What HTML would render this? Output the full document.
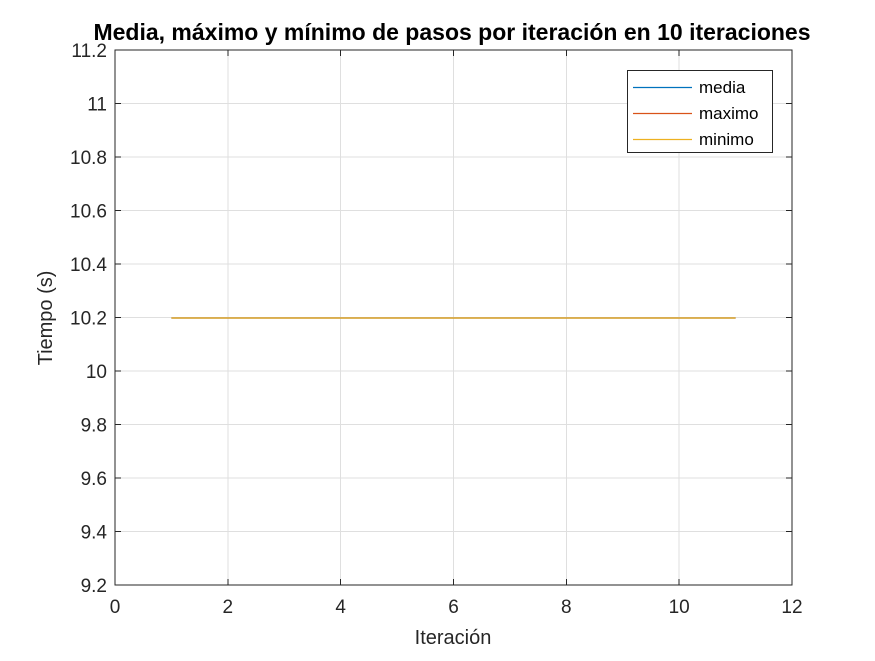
<!DOCTYPE html>
<html><head><meta charset="utf-8"><style>
html,body{margin:0;padding:0;background:#fff;}
svg text{font-family:"Liberation Sans",Arial,sans-serif;}
</style></head><body>
<svg id="chart" width="875" height="656" xmlns="http://www.w3.org/2000/svg">
<rect width="875" height="656" fill="#fff"/>
<g id="grid"></g><g id="series"></g><g id="axes"></g>
<text x="452" y="40" text-anchor="middle" font-size="23" font-weight="bold" fill="#000">Media, máximo y mínimo de pasos por iteración en 10 iteraciones</text>
<text x="453" y="644" text-anchor="middle" font-size="20" fill="#262626">Iteración</text>
<text transform="translate(52,318) rotate(-90)" text-anchor="middle" font-size="20" fill="#262626">Tiempo (s)</text>
<g>
<rect x="627.5" y="70.5" width="145" height="82" fill="#fff" stroke="#262626" stroke-width="1" shape-rendering="crispEdges"/>
<line x1="633" y1="87.5" x2="692" y2="87.5" stroke="#0072BD" stroke-width="1.2"/>
<line x1="633" y1="113.5" x2="692" y2="113.5" stroke="#D95319" stroke-width="1.2"/>
<line x1="633" y1="139.5" x2="692" y2="139.5" stroke="#EDB120" stroke-width="1.2"/>
</g>
<text x="699" y="93" font-size="17" fill="#000">media</text>
<text x="699" y="119" font-size="17" fill="#000">maximo</text>
<text x="699" y="145" font-size="17" fill="#000">minimo</text>
</svg>
<script>
const iterations=[1,2,3,4,5,6,7,8,9,10,11];
const media=[10.2,10.2,10.2,10.2,10.2,10.2,10.2,10.2,10.2,10.2,10.2];
const maximo=[10.2,10.2,10.2,10.2,10.2,10.2,10.2,10.2,10.2,10.2,10.2];
const minimo=[10.2,10.2,10.2,10.2,10.2,10.2,10.2,10.2,10.2,10.2,10.2];
const xTicks=[0,2,4,6,8,10,12];
const yTicks=[9.2,9.4,9.6,9.8,10,10.2,10.4,10.6,10.8,11,11.2];
const L=115,R=792,T=50,B=585,xMin=0,xMax=12,yMin=9.2,yMax=11.2;
const sx=v=>L+(v-xMin)/(xMax-xMin)*(R-L);
const sy=v=>B-(v-yMin)/(yMax-yMin)*(B-T);
const NS="http://www.w3.org/2000/svg";
function mk(tag,attrs,parent){const e=document.createElementNS(NS,tag);for(const k in attrs)e.setAttribute(k,attrs[k]);parent.appendChild(e);return e;}
const grid=document.getElementById('grid'),axes=document.getElementById('axes'),ser=document.getElementById('series');
xTicks.forEach(t=>{
 const g=mk('line',{x1:sx(t),x2:sx(t),y1:T,y2:B,stroke:'#dfdfdf','stroke-width':1,'shape-rendering':'crispEdges'},grid);
 
 
 mk('line',{x1:sx(t),x2:sx(t),y1:B,y2:B-6,stroke:'#262626','shape-rendering':'crispEdges'},axes);
 mk('line',{x1:sx(t),x2:sx(t),y1:T,y2:T+6,stroke:'#262626','shape-rendering':'crispEdges'},axes);
 const tx=mk('text',{x:sx(t),y:B+28,'text-anchor':'middle','font-size':19,fill:'#262626'},axes);
 tx.textContent=t;
 
 
});
yTicks.forEach(t=>{
 const g=mk('line',{x1:L,x2:R,y1:sy(t),y2:sy(t),stroke:'#dfdfdf','stroke-width':1,'shape-rendering':'crispEdges'},grid);
 
 
 mk('line',{x1:L,x2:L+6,y1:sy(t),y2:sy(t),stroke:'#262626','shape-rendering':'crispEdges'},axes);
 mk('line',{x1:R,x2:R-6,y1:sy(t),y2:sy(t),stroke:'#262626','shape-rendering':'crispEdges'},axes);
 const tx=mk('text',{x:L-8,y:sy(t)+7,'text-anchor':'end','font-size':19,fill:'#262626'},axes);
 tx.textContent=String(t);
 
 
});
const box=mk('rect',{x:L,y:T,width:R-L,height:B-T,fill:'none',stroke:'#262626','stroke-width':1,'shape-rendering':'crispEdges'},axes);


[[media,'#0072BD','line-media'],[maximo,'#D95319','line-maximo'],[minimo,'#EDB120','line-minimo']].forEach(([d,c,n])=>{
 const p=mk('polyline',{points:d.map((v,i)=>sx(iterations[i])+','+(sy(v)+0.5)).join(' '),fill:'none',stroke:c,'stroke-width':1.2},ser);
 
 
});
</script>
</body></html>
